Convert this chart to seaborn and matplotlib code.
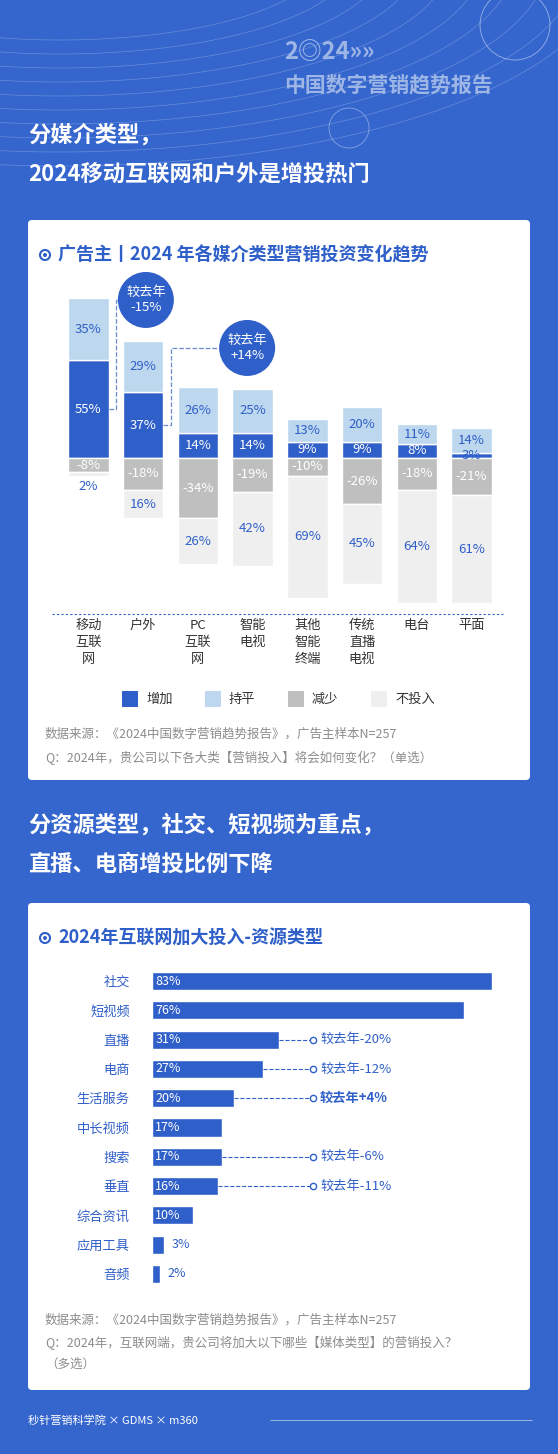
import matplotlib
matplotlib.use("Agg")
import matplotlib.pyplot as plt
import seaborn as sns
import numpy as np
from matplotlib.patches import Circle, FancyBboxPatch, Ellipse

sns.set_theme(style="white")
plt.rcParams['font.family'] = ['Noto Sans CJK SC', 'DejaVu Sans']

# ---- data ----
media_cats = ['移动\n互联\n网', '户外', 'PC\n互联\n网', '智能\n电视', '其他\n智能\n终端', '传统\n直播\n电视', '电台', '平面']
inc = [55, 37, 14, 14, 9, 9, 8, 3]
flat = [35, 29, 26, 25, 13, 20, 11, 14]
dec = [-8, -18, -34, -19, -10, -26, -18, -21]
none_ = [2, 16, 26, 42, 69, 45, 64, 61]
legend_labels = ['增加', '持平', '减少', '不投入']

res_cats = ['社交', '短视频', '直播', '电商', '生活服务', '中长视频', '搜索', '垂直', '综合资讯', '应用工具', '音频']
res_vals = [83, 76, 31, 27, 20, 17, 17, 16, 10, 3, 2]
res_notes = {'直播': '较去年-20%', '电商': '较去年-12%', '生活服务': '较去年+4%', '搜索': '较去年-6%', '垂直': '较去年-11%'}

BG = '#3566CE'
BLUE = '#2F5FC8'
C_INC, C_FLAT, C_DEC, C_NONE = '#2F5FC8', '#BDD7EE', '#BFBFBF', '#EFEFEF'
W, H = 558, 1454

fig = plt.figure(figsize=(W/100, H/100), dpi=100)
fig.patch.set_facecolor(BG)

def fx(x): return x / W
def fy(y): return 1 - y / H
def ax_px(l, t, r, b):
    return fig.add_axes([fx(l), fy(b), (r - l) / W, (b - t) / H])

bg = fig.add_axes([0, 0, 1, 1]); bg.set_xlim(0, W); bg.set_ylim(H, 0); bg.axis('off')
for k in range(10):
    t = np.linspace(0, np.pi, 100)
    bg.plot(-60 + (200 + 25 * k) * np.cos(t) * 1.3 + 120, -40 + (80 + 14 * k) * np.sin(t), color='white', lw=0.5, alpha=0.25)
bg.add_patch(Circle((515, 25), 35, fill=False, ec='white', lw=0.6, alpha=0.5))
bg.add_patch(Circle((349, 128), 20, fill=False, ec='white', lw=0.6, alpha=0.4))
bg.text(284, 52, '2◎24»»', color='#9DB6E6', fontsize=17, fontweight='bold', va='center')
bg.text(284, 85, '中国数字营销趋势报告', color='#9DB6E6', fontsize=15, fontweight='bold', va='center')
bg.text(28, 135, '分媒介类型，', color='white', fontsize=16, fontweight='bold', va='center')
bg.text(28, 174, '2024移动互联网和户外是增投热门', color='white', fontsize=16, fontweight='bold', va='center')
bg.add_patch(FancyBboxPatch((28, 220), 502, 560, boxstyle='round,pad=0,rounding_size=4', fc='white', ec='none'))
bg.text(28, 825, '分资源类型，社交、短视频为重点，', color='white', fontsize=16, fontweight='bold', va='center')
bg.text(28, 864, '直播、电商增投比例下降', color='white', fontsize=16, fontweight='bold', va='center')
bg.add_patch(FancyBboxPatch((28, 903), 502, 487, boxstyle='round,pad=0,rounding_size=4', fc='white', ec='none'))

def icon(x, y):
    bg.add_patch(Circle((x, y), 5, fill=False, ec=BLUE, lw=1.5))
    bg.add_patch(Circle((x, y), 2, fc=BLUE, ec='none'))
icon(45, 255)
bg.text(58, 255, '广告主丨2024 年各媒介类型营销投资变化趋势', color=BLUE, fontsize=13, fontweight='bold', va='center')
icon(45, 938)
bg.text(58, 938, '2024年互联网加大投入-资源类型', color=BLUE, fontsize=13, fontweight='bold', va='center')

for i, (lab, c) in enumerate(zip(legend_labels, [C_INC, C_FLAT, C_DEC, C_NONE])):
    x0 = 122 + i * 83
    bg.add_patch(plt.Rectangle((x0, 691), 16, 16, fc=c, ec='none'))
    bg.text(x0 + 24, 699, lab, fontsize=9.5, color='#333333', va='center')
bg.text(45, 734, '数据来源：《2024中国数字营销趋势报告》，广告主样本N=257', fontsize=9, color='#8C8C8C', va='center')
bg.text(45, 758, 'Q：2024年，贵公司以下各大类【营销投入】将会如何变化？（单选）', fontsize=9, color='#8C8C8C', va='center')
bg.text(45, 1320, '数据来源：《2024中国数字营销趋势报告》，广告主样本N=257', fontsize=9, color='#8C8C8C', va='center')
bg.text(45, 1343, 'Q：2024年，互联网端，贵公司将加大以下哪些【媒体类型】的营销投入？', fontsize=9, color='#8C8C8C', va='center')
bg.text(45, 1364, '（多选）', fontsize=9, color='#8C8C8C', va='center')
bg.text(28, 1420, '秒针营销科学院 × GDMS × m360', fontsize=8, color='white', va='center')
bg.plot([270, 532], [1420, 1420], color='white', lw=0.6, alpha=0.6)

ax = ax_px(61, 270, 499, 614)
df_idx = list(range(len(media_cats)))
sns.barplot(x=df_idx, y=inc, color=C_INC, width=0.74, ax=ax, saturation=1)
sns.barplot(x=df_idx, y=flat, bottom=inc, color=C_FLAT, width=0.74, ax=ax, saturation=1)
sns.barplot(x=df_idx, y=dec, color=C_DEC, width=0.74, ax=ax, saturation=1)
sns.barplot(x=df_idx, y=[-n for n in none_], bottom=dec, color=C_NONE, width=0.74, ax=ax, saturation=1)
ax.set_ylim(-88, 106)
ax.set_xlim(-0.5, len(media_cats) - 0.5)
ax.axis('off')
for i in df_idx:
    ax.text(i, inc[i] / 2, f'{inc[i]}%', ha='center', va='center', color='white' if inc[i] > 5 else BLUE, fontsize=9.5)
    ax.text(i, inc[i] + flat[i] / 2, f'{flat[i]}%', ha='center', va='center', color=BLUE, fontsize=9.5)
    ax.text(i, dec[i] / 2, f'{dec[i]}%', ha='center', va='center', color='white', fontsize=9.5)
    ny = dec[i] - none_[i] / 2 if none_[i] > 8 else dec[i] - none_[i] - 6
    ax.text(i, ny, f'{none_[i]}%', ha='center', va='center', color=BLUE, fontsize=9.5)
PXX, PXY = 54.75, 344 / 194
def bubble(bi, cx, cy, txt):
    ymid = inc[bi] / 2
    xr = bi + 0.37
    xm = bi + 0.5
    ax.plot([xr, xm, xm, cx], [ymid, ymid, cy, cy], ls='--', color='#6A8BD0', lw=0.9)
    ax.add_patch(Ellipse((cx, cy), 56 / PXX, 56 / PXY, fc=BLUE, ec='none', zorder=5, clip_on=False))
    ax.text(cx, cy, txt, ha='center', va='center', color='white', fontsize=9.5, zorder=6, linespacing=1.3)
bubble(0, 1.05, (458 - 300) / PXY, '较去年\n-15%')
bubble(1, 2.9, (458 - 348) / PXY, '较去年\n+14%')
for i, c in enumerate(media_cats):
    bg.text(61 + 54.75 * (i + 0.5), 619, c, ha='center', va='top', fontsize=9.5, color='#333333', linespacing=1.4)
bg.plot([52, 503], [614, 614], ls=(0, (2, 2)), color=BLUE, lw=0.8)

ax2 = ax_px(152, 956.5, 562, 1298.5)
sns.barplot(x=res_vals, y=res_cats, orient='h', color=BLUE, width=0.62, ax=ax2, saturation=1)
ax2.set_xlim(0, 100)
ax2.set_xlabel(''); ax2.set_ylabel('')
ax2.set_xticks([])
for s in ax2.spines.values(): s.set_visible(False)
ax2.tick_params(axis='y', length=0, pad=16, labelsize=9.5, labelcolor=BLUE)
ax2.patch.set_alpha(0)
for i, v in enumerate(res_vals):
    if v >= 6:
        ax2.text(0.8, i, f'{v}%', color='white', va='center', fontsize=9)
    else:
        ax2.text(v + 1.8, i, f'{v}%', color=BLUE, va='center', fontsize=9)
    note = res_notes.get(res_cats[i])
    if note:
        ax2.plot([v, 39.3], [i, i], ls='--', color=BLUE, lw=0.8)
        ax2.plot([39.3], [i], marker='o', mfc='white', mec=BLUE, ms=4.5)
        ax2.text(41, i, note, va='center', color=BLUE, fontsize=9.5,
                 fontweight='bold' if '+' in note else 'normal')

fig.savefig('out.png', dpi=100, facecolor=BG)
